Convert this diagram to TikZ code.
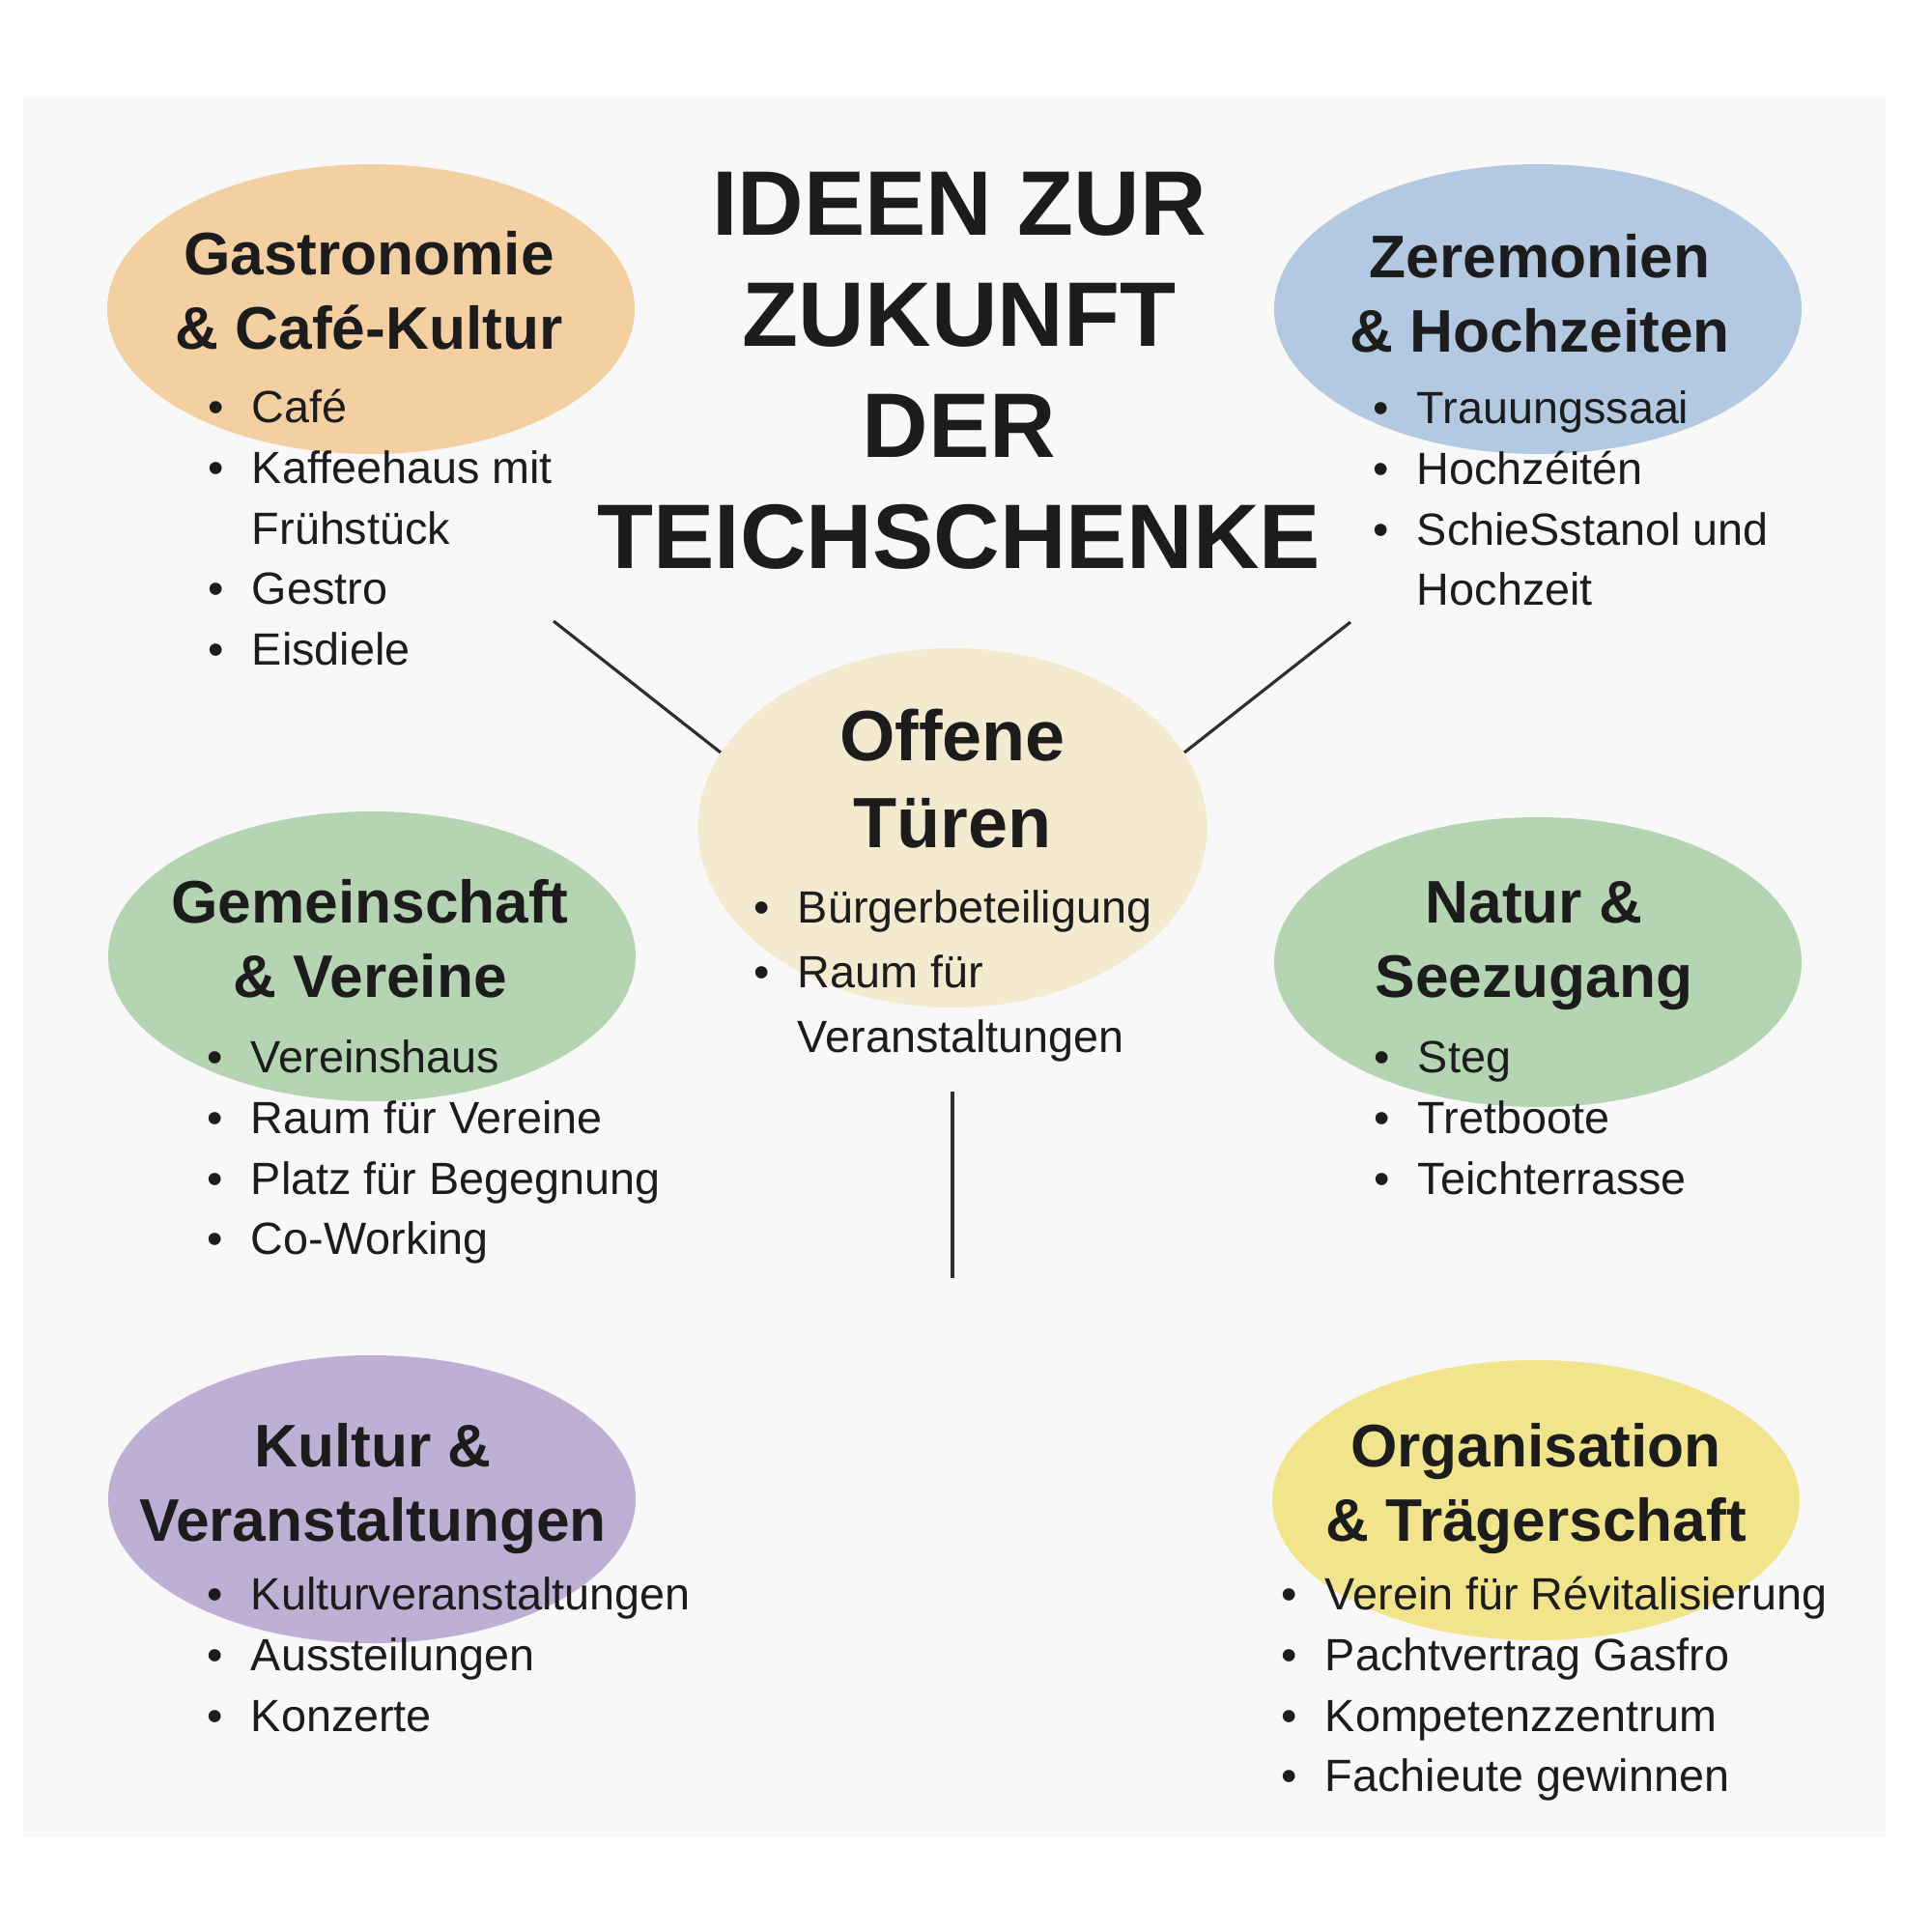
\documentclass[tikz,border=0pt]{standalone}
\usepackage{fontspec}
\setmainfont{Liberation Sans}
\usepackage{tikz}
\usetikzlibrary{
	shapes.geometric
}
\definecolor{panelC}{HTML}{F8F8F8}
\definecolor{gastroC}{HTML}{F3CFA2}
\definecolor{zeremC}{HTML}{B3C9E1}
\definecolor{offenC}{HTML}{F3EAD0}
\definecolor{greenC}{HTML}{B5D4B2}
\definecolor{kulturC}{HTML}{BEB0D5}
\definecolor{orgaC}{HTML}{F1E48C}
\definecolor{inkC}{HTML}{1C1C1C}
\definecolor{lineC}{HTML}{2E2E2E}
\newcommand{\lines}[1]{\begin{tabular}[t]{@{}c@{}}#1\end{tabular}}
\newcommand{\bullets}[1]{\begin{tabular}[t]{@{}l@{\hspace{8.2pt}}l@{}}#1\end{tabular}}
\tikzset{
	bubble/.style={
		ellipse, inner sep=0pt, minimum width=5.46cm, minimum height=3cm
	},
	title/.style={
		anchor=base, inner sep=0pt, text=inkC,
		font=\bfseries\fontsize{27}{32.7}\selectfont
	},
	heading/.style={
		anchor=base, inner sep=0pt, text=inkC,
		font=\bfseries\fontsize{17.7}{21.8}\selectfont
	},
	points/.style={
		anchor=base west, inner sep=0pt, text=inkC,
		font=\fontsize{13.3}{17.8}\selectfont
	},
	link/.style={
		line width=0.9pt, draw=lineC
	}
}

\begin{document}
\begin{tikzpicture}
		\useasboundingbox (0,0) rectangle (20,20);
		\fill[white] (0,0) rectangle (20,20);
		\fill[panelC] (0.24,0.98) rectangle (19.52,19.0);
		\draw
			node[bubble,fill=gastroC]                    (gastro) at (3.84,16.80) {}
			node[bubble,fill=zeremC]                     (zerem)  at (15.92,16.80) {}
			node[bubble,fill=offenC,minimum width=5.27cm,minimum height=3.72cm] (offen) at (9.86,11.43) {}
			node[bubble,fill=greenC]                     (gemein) at (3.85,10.10) {}
			node[bubble,fill=greenC]                     (natur)  at (15.92,10.04) {}
			node[bubble,fill=kulturC,minimum height=2.98cm] (kultur) at (3.85,4.48) {}
			node[bubble,fill=orgaC,minimum height=2.9cm]    (orga)   at (15.90,4.47) {}

			node[title] (title) at (9.93,17.56) {\lines{IDEEN ZUR\\ZUKUNFT\\DER\\TEICHSCHENKE}}

			node[heading] (gastroHead) at (3.82,17.15) {\lines{Gastronomie\\\& Café-Kultur}}
			node[heading] (zeremHead)  at (15.94,17.12) {\lines{Zeremonien\\\& Hochzeiten}}
			node[heading,font=\bfseries\fontsize{21}{25.5}\selectfont] (offenHead) at (9.86,12.12) {\lines{Offene\\Türen}}
			node[heading] (gemeinHead) at (3.83,10.44) {\lines{Gemeinschaft\\\& Vereine}}
			node[heading] (naturHead)  at (15.88,10.44) {\lines{Natur \&\\Seezugang}}
			node[heading] (kulturHead) at (3.86,4.81) {\lines{Kultur \&\\Veranstaltungen}}
			node[heading] (orgaHead)   at (15.90,4.81) {\lines{Organisation\\\& Trägerschaft}}

			node[points] (gastroList) at (2.15,15.62) {\bullets{
				\textbullet & Café\\
				\textbullet & Kaffeehaus mit\\
				            & Frühstück\\
				\textbullet & Gestro\\
				\textbullet & Eisdiele}}
			node[points] (zeremList) at (14.21,15.61) {\bullets{
				\textbullet & Trauungssaai\\
				\textbullet & Hochzéitén\\
				\textbullet & SchieSstanol und\\
				            & Hochzeit}}
			node[points,font=\fontsize{13.3}{19}\selectfont] (offenList) at (7.80,10.44) {\bullets{
				\textbullet & Bürgerbeteiligung\\
				\textbullet & Raum für\\
				            & Veranstaltungen}}
			node[points] (gemeinList) at (2.14,8.89) {\bullets{
				\textbullet & Vereinshaus\\
				\textbullet & Raum für Vereine\\
				\textbullet & Platz für Begegnung\\
				\textbullet & Co-Working}}
			node[points] (naturList) at (14.22,8.89) {\bullets{
				\textbullet & Steg\\
				\textbullet & Tretboote\\
				\textbullet & Teichterrasse}}
			node[points] (kulturList) at (2.14,3.33) {\bullets{
				\textbullet & Kulturveranstaltungen\\
				\textbullet & Aussteilungen\\
				\textbullet & Konzerte}}
			node[points] (orgaList) at (13.26,3.33) {\bullets{
				\textbullet & Verein für Révitalisierung\\
				\textbullet & Pachtvertrag Gasfro\\
				\textbullet & Kompetenzzentrum\\
				\textbullet & Fachieute gewinnen}}

			coordinate (gastroEnd) at (5.73,13.57)
			coordinate (zeremEnd)  at (13.98,13.56)
			coordinate (stemEnd)   at (9.86,6.77)

			(offen.162)   edge[link] (gastroEnd)
			(offen.18)    edge[link] (zeremEnd)
			(offen.south) edge[link,shorten <=0.86cm] (stemEnd)
		;
	\end{tikzpicture}
\end{document}
